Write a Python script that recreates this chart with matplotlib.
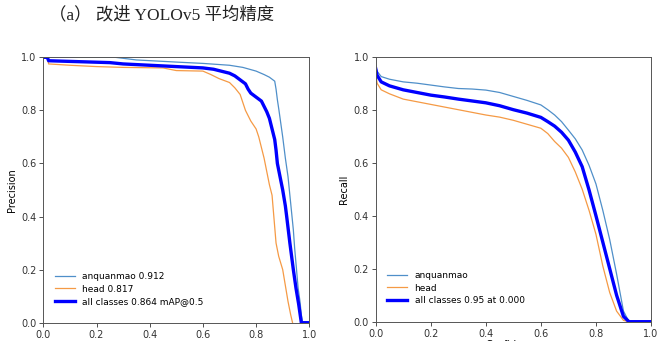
import matplotlib
matplotlib.use("Agg")
import matplotlib.pyplot as plt

# ---- data: PR curve (left) ----
pr_anq_recall = [0.0, 0.27, 0.35, 0.5, 0.6, 0.7, 0.75, 0.8, 0.83, 0.85, 0.87, 0.875, 0.88, 0.886, 0.893, 0.9, 0.91, 0.92, 0.93, 0.94, 0.945, 0.952, 0.958, 0.965, 0.97, 0.975, 1.0]
pr_anq_prec   = [1.0, 1.0, 0.99, 0.982, 0.977, 0.97, 0.962, 0.948, 0.935, 0.925, 0.91, 0.88, 0.84, 0.8, 0.75, 0.7, 0.62, 0.55, 0.45, 0.35, 0.28, 0.2, 0.13, 0.08, 0.03, 0.0, 0.0]

pr_head_recall = [0.0, 0.015, 0.02, 0.1, 0.2, 0.3, 0.45, 0.5, 0.6, 0.63, 0.66, 0.7, 0.72, 0.74, 0.75, 0.76, 0.77, 0.78, 0.8, 0.81, 0.82, 0.83, 0.84, 0.85, 0.86, 0.865, 0.87, 0.875, 0.885, 0.9, 0.91, 0.92, 0.93, 0.937]
pr_head_prec   = [1.0, 1.0, 0.975, 0.97, 0.965, 0.962, 0.96, 0.95, 0.948, 0.935, 0.92, 0.905, 0.885, 0.86, 0.83, 0.8, 0.78, 0.76, 0.73, 0.7, 0.66, 0.62, 0.57, 0.52, 0.48, 0.42, 0.36, 0.3, 0.25, 0.2, 0.14, 0.08, 0.03, 0.0]

pr_all_recall = [0.0, 0.015, 0.02, 0.25, 0.3, 0.4, 0.5, 0.6, 0.64, 0.68, 0.7, 0.72, 0.74, 0.76, 0.77, 0.78, 0.8, 0.82, 0.83, 0.84, 0.85, 0.86, 0.87, 0.875, 0.88, 0.89, 0.9, 0.91, 0.915, 0.927, 0.94, 0.95, 0.96, 0.97, 1.0]
pr_all_prec   = [1.0, 1.0, 0.987, 0.98, 0.975, 0.97, 0.965, 0.96, 0.955, 0.945, 0.94, 0.93, 0.915, 0.9, 0.88, 0.865, 0.85, 0.835, 0.815, 0.795, 0.77, 0.73, 0.69, 0.65, 0.6, 0.55, 0.5, 0.44, 0.4, 0.3, 0.2, 0.13, 0.07, 0.0, 0.0]

# ---- data: Recall-Confidence curve (right) ----
rc_conf = [0.0, 0.005, 0.02, 0.05, 0.1, 0.15, 0.2, 0.25, 0.3, 0.35, 0.4, 0.45, 0.5, 0.55, 0.6, 0.625, 0.65, 0.675, 0.7, 0.725, 0.75, 0.775, 0.8, 0.825, 0.85, 0.875, 0.9, 0.92, 0.95, 1.0]
rc_anq  = [0.965, 0.945, 0.925, 0.915, 0.905, 0.9, 0.893, 0.886, 0.88, 0.878, 0.874, 0.865, 0.85, 0.835, 0.818, 0.8, 0.78, 0.755, 0.723, 0.69, 0.648, 0.59, 0.52, 0.42, 0.31, 0.18, 0.04, 0.0, 0.0, 0.0]
rc_all  = [0.955, 0.93, 0.905, 0.89, 0.875, 0.865, 0.855, 0.848, 0.84, 0.833, 0.826, 0.815, 0.8, 0.787, 0.771, 0.755, 0.738, 0.715, 0.685, 0.64, 0.585, 0.497, 0.4, 0.3, 0.2, 0.1, 0.02, 0.0, 0.0, 0.0]
rc_head = [0.935, 0.9, 0.875, 0.86, 0.84, 0.83, 0.82, 0.81, 0.8, 0.79, 0.78, 0.772, 0.76, 0.745, 0.73, 0.71, 0.68, 0.655, 0.62, 0.565, 0.5, 0.42, 0.33, 0.21, 0.11, 0.04, 0.005, 0.0, 0.0, 0.0]

ticks = [0.0, 0.2, 0.4, 0.6, 0.8, 1.0]
title_text = "（a） 改进 YOLOv5 平均精度"

c_anq = "#4f8fc9"
c_head = "#f59a45"
c_all = "#0000ff"

fig = plt.figure(figsize=(6.70, 3.41), dpi=100)
W, H = 670, 341

def add_ax(x0, x1, y_top, y_bot):
    return fig.add_axes([x0 / W, 1 - y_bot / H, (x1 - x0) / W, (y_bot - y_top) / H])

ax1 = add_ax(43.3, 309.3, 57.3, 322.7)
ax2 = add_ax(375.7, 651.0, 56.7, 321.7)

ax1.plot(pr_anq_recall, pr_anq_prec, color=c_anq, lw=0.9, label="anquanmao 0.912")
ax1.plot(pr_head_recall, pr_head_prec, color=c_head, lw=0.9, label="head 0.817")
ax1.plot(pr_all_recall, pr_all_prec, color=c_all, lw=2.4, label="all classes 0.864 mAP@0.5")
ax1.set_xlabel("Recall", fontsize=7, labelpad=1)
ax1.set_ylabel("Precision", fontsize=7, labelpad=3)

ax2.plot(rc_conf, rc_anq, color=c_anq, lw=0.9, label="anquanmao")
ax2.plot(rc_conf, rc_head, color=c_head, lw=0.9, label="head")
ax2.plot(rc_conf, rc_all, color=c_all, lw=2.4, label="all classes 0.95 at 0.000")
ax2.set_xlabel("Confidence", fontsize=7, labelpad=1)
ax2.set_ylabel("Recall", fontsize=7, labelpad=3)

for ax in (ax1, ax2):
    ax.set_xlim(0, 1)
    ax.set_ylim(0, 1)
    ax.set_xticks(ticks)
    ax.set_yticks(ticks)
    ax.set_xticklabels([f"{t:.1f}" for t in ticks])
    ax.set_yticklabels([f"{t:.1f}" for t in ticks])
    ax.tick_params(labelsize=7, length=3, width=0.6, colors="#333333", pad=2)
    for s in ax.spines.values():
        s.set_linewidth(0.7)
        s.set_color("#555555")
    ax.legend(loc="lower left", frameon=False, fontsize=6.5, handlelength=2.2,
              borderaxespad=0.6, labelspacing=0.35, bbox_to_anchor=(0.01, 0.03))

fig.text(162 / W, 1 - 15 / H, title_text, ha="center", va="center", fontsize=12.5,
         family=["Liberation Serif", "Noto Sans CJK SC"], color="#222222")

fig.savefig("out.png", dpi=100)
